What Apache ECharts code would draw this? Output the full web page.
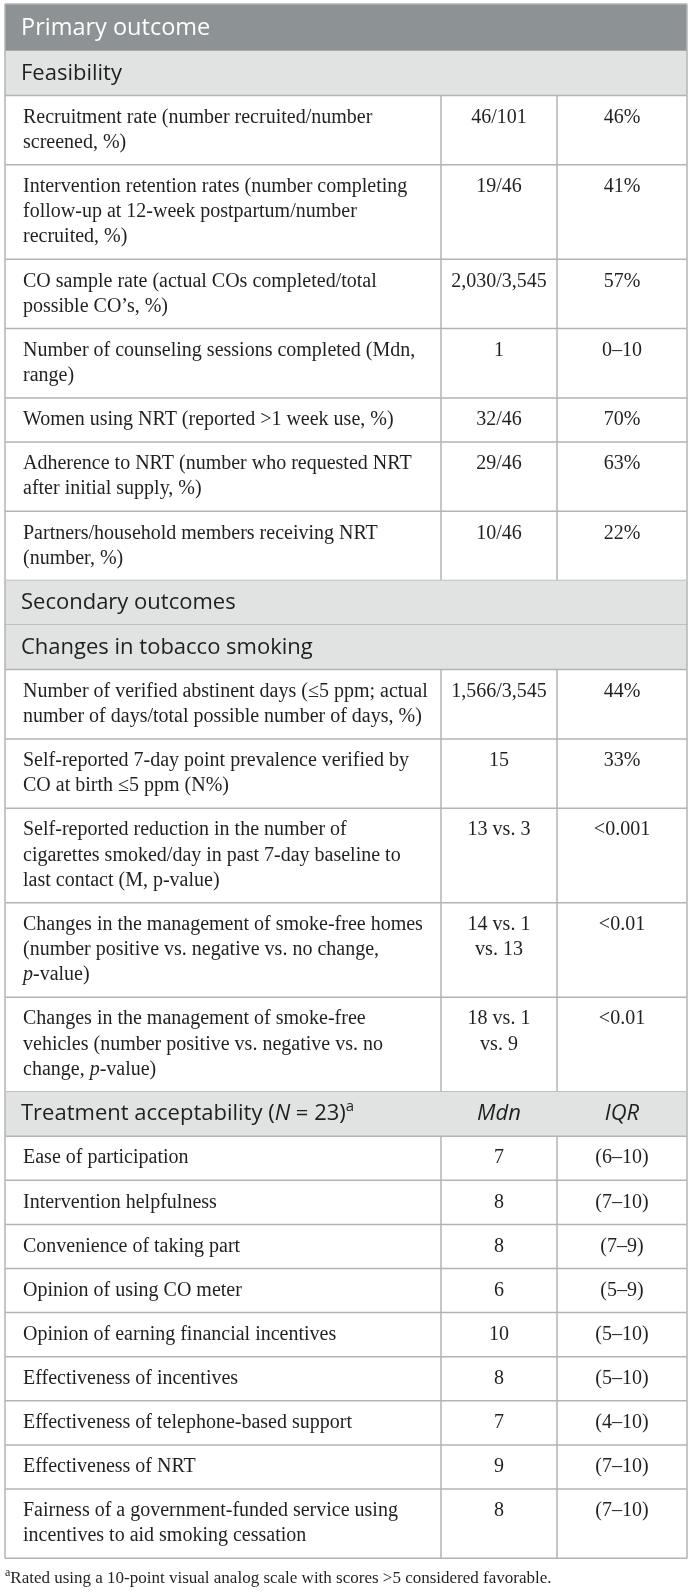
<!DOCTYPE html>
<html><head><meta charset="utf-8">
<script src="https://cdn.jsdelivr.net/npm/echarts@6/dist/echarts.min.js"></script>
<style>html,body{margin:0;padding:0;background:#fff}#c{width:692px;height:1595px}</style>
</head><body><div id="c"></div>
<script>
// ---- table content ----
const rowKinds = [
  'title', 'section',
  'row', 'row', 'row', 'row', 'row', 'row', 'row',
  'section', 'section',
  'row', 'row', 'row', 'row', 'row',
  'section',
  'row', 'row', 'row', 'row', 'row', 'row', 'row', 'row', 'row'
];
const rowLabels = [
  'Primary outcome',
  'Feasibility',
  'Recruitment rate (number recruited/number\nscreened, %)',
  'Intervention retention rates (number completing\nfollow-up at 12-week postpartum/number\nrecruited, %)',
  'CO sample rate (actual COs completed/total\npossible CO’s, %)',
  'Number of counseling sessions completed (Mdn,\nrange)',
  'Women using NRT (reported >1 week use, %)',
  'Adherence to NRT (number who requested NRT\nafter initial supply, %)',
  'Partners/household members receiving NRT\n(number, %)',
  'Secondary outcomes',
  'Changes in tobacco smoking',
  'Number of verified abstinent days (≤5 ppm; actual\nnumber of days/total possible number of days, %)',
  'Self-reported 7-day point prevalence verified by\nCO at birth ≤5 ppm (N%)',
  'Self-reported reduction in the number of\ncigarettes smoked/day in past 7-day baseline to\nlast contact (M, p-value)',
  'Changes in the management of smoke-free homes\n(number positive vs. negative vs. no change,\n*p*-value)',
  'Changes in the management of smoke-free\nvehicles (number positive vs. negative vs. no\nchange, *p*-value)',
  'Treatment acceptability (*N* = 23)^a^',
  'Ease of participation',
  'Intervention helpfulness',
  'Convenience of taking part',
  'Opinion of using CO meter',
  'Opinion of earning financial incentives',
  'Effectiveness of incentives',
  'Effectiveness of telephone-based support',
  'Effectiveness of NRT',
  'Fairness of a government-funded service using\nincentives to aid smoking cessation'
];
const col2Values = [
  '', '',
  '46/101', '19/46', '2,030/3,545', '1', '32/46', '29/46', '10/46',
  '', '',
  '1,566/3,545', '15', '13 vs. 3', '14 vs. 1\nvs. 13', '18 vs. 1\nvs. 9',
  '*Mdn*',
  '7', '8', '8', '6', '10', '8', '7', '9', '8'
];
const col3Values = [
  '', '',
  '46%', '41%', '57%', '0–10', '70%', '63%', '22%',
  '', '',
  '44%', '33%', '<0.001', '<0.01', '<0.01',
  '*IQR*',
  '(6–10)', '(7–10)', '(7–9)', '(5–9)', '(5–10)', '(5–10)', '(4–10)', '(7–10)', '(7–10)'
];
const footnote = '^a^Rated using a 10-point visual analog scale with scores >5 considered favorable.';

// ---- layout ----
const X_LEFT = 5, X_DIV1 = 441, X_DIV2 = 557, X_RIGHT = 687, Y_TOP = 4;
const TEXT_X = 23, LINE_PITCH = 25.2;
const C2 = (X_DIV1 + X_DIV2) / 2, C3 = (X_DIV2 + X_RIGHT) / 2;
const BODY = '"Liberation Serif", "Times New Roman", serif';
const SANS = '"Open Sans", "Noto Sans", sans-serif';
const styles = {
  title:   { size: 23.5, fam: SANS, color: '#ffffff', bg: '#8d9295', first: 24 },
  section: { size: 22, fam: SANS, color: '#1f1f1f', bg: '#e1e3e2', first: 22.5 },
  row:     { size: 20, fam: BODY, color: '#231f20', bg: null, first: 22 }
};
function nLines(s) { return s ? s.split('\n').length : 1; }
function rowHeight(i) {
  const k = rowKinds[i];
  if (k === 'title') return 47;
  if (k === 'section') return 44.5;
  const n = Math.max(nLines(rowLabels[i]), nLines(col2Values[i]), nLines(col3Values[i]));
  return 18.9 + LINE_PITCH * n;
}
const tops = [Y_TOP];
for (let i = 0; i < rowKinds.length; i++) tops.push(tops[i] + rowHeight(i));

const mctx = document.createElement('canvas').getContext('2d');
function measure(font, s) { mctx.font = font; return mctx.measureText(s).width; }
function parseSegs(str) {
  return str.split(/(\*[^*]+\*|\^[^^]+\^)/).filter(s => s).map(s => {
    if (s[0] === '*') return { t: s.slice(1, -1), it: true };
    if (s[0] === '^') return { t: s.slice(1, -1), sup: true };
    return { t: s };
  });
}
function lineElems(str, x, y, st, align, out) {
  const segs = parseSegs(str).map(sg => {
    const size = sg.sup ? Math.round(st.size * 0.68) : st.size;
    const font = (sg.it ? 'italic ' : '') + size + 'px ' + st.fam;
    return { t: sg.t, font, dy: sg.sup ? -st.size * 0.33 : 0, w: measure(font, sg.t) };
  });
  const total = segs.reduce((a, s) => a + s.w, 0);
  let cx = align === 'center' ? x - total / 2 : x;
  segs.forEach(s => {
    out.push({
      type: 'text', silent: true,
      x: cx, y: y + s.dy,
      style: { text: s.t, font: s.font, fill: st.color, align: 'left', verticalAlign: 'middle' }
    });
    cx += s.w;
  });
}
const LINE_STYLE = { stroke: '#b3b3b3', lineWidth: 1.5 };
function seg(p, q) {
  return { type: 'line', silent: true, shape: { x1: p[0], y1: p[1], x2: q[0], y2: q[1] }, style: LINE_STYLE };
}

function renderItem(params, api) {
  const i = params.dataIndex;
  const kind = rowKinds[i];
  const st = styles[kind];
  const top = tops[i], bot = tops[i + 1];
  const out = [];
  const tl = api.coord([X_LEFT, top]), br = api.coord([X_RIGHT, bot]);
  if (st.bg) {
    out.push({ type: 'rect', silent: true, shape: { x: tl[0], y: tl[1], width: br[0] - tl[0], height: br[1] - tl[1] }, style: { fill: st.bg } });
  }
  if (i === 0) out.push(seg(api.coord([X_LEFT, top]), api.coord([X_RIGHT, top])));
  out.push(seg(api.coord([X_LEFT, bot]), api.coord([X_RIGHT, bot])));
  out.push(seg(api.coord([X_LEFT, top]), api.coord([X_LEFT, bot])));
  out.push(seg(api.coord([X_RIGHT, top]), api.coord([X_RIGHT, bot])));
  if (kind === 'row') {
    out.push(seg(api.coord([X_DIV1, top]), api.coord([X_DIV1, bot])));
    out.push(seg(api.coord([X_DIV2, top]), api.coord([X_DIV2, bot])));
  }
  const put = (txt, xv, align) => {
    if (!txt) return;
    txt.split('\n').forEach((ln, j) => {
      const p = api.coord([xv, top + st.first + LINE_PITCH * j]);
      lineElems(ln, p[0], p[1], st, align, out);
    });
  };
  put(rowLabels[i], kind === 'row' ? TEXT_X : 21, 'left');
  put(col2Values[i], C2, 'center');
  put(col3Values[i], C3, 'center');
  if (i === rowKinds.length - 1) {
    const p = api.coord([X_LEFT, bot + 20]);
    lineElems(footnote, p[0], p[1], { size: 17, fam: BODY, color: '#231f20' }, 'left', out);
  }
  return { type: 'group', children: out };
}

const chart = echarts.init(document.getElementById('c'), null, { renderer: 'canvas' });
chart.setOption({
  animation: false,
  grid: { left: 0, right: 0, top: 0, bottom: 0 },
  xAxis: { type: 'value', min: 0, max: 692, show: false },
  yAxis: { type: 'value', min: 0, max: 1595, inverse: true, show: false },
  series: [{
    type: 'custom',
    renderItem: renderItem,
    data: rowKinds.map((k, i) => [i]),
    encode: { x: -1, y: 0 },
    clip: false
  }]
});
</script>
</body></html>
